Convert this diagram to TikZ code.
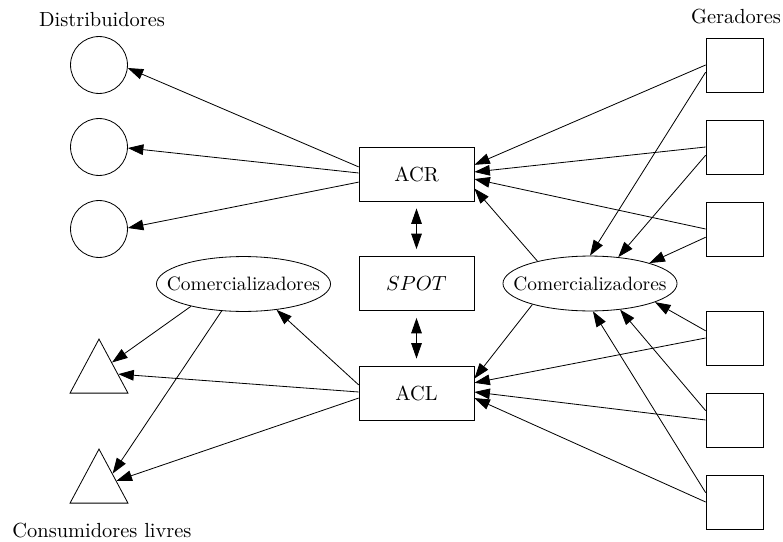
\documentclass[tikz,border=0pt]{standalone}
\usepackage{amsmath}
\usetikzlibrary{arrows.meta,shapes.geometric,calc}

\begin{document}
\begin{tikzpicture}[x=0.49pt,y=-0.49pt,
  every node/.append style={inner sep=0pt},
  arr/.style={-{Triangle[length=7.6pt,width=5.2pt]}},
  dbl/.style={{Triangle[length=7.6pt,width=5.2pt]}-{Triangle[length=7.6pt,width=5.2pt]},shorten <=3.4pt,shorten >=3.4pt},
  mercado/.style={draw,rectangle,minimum width=56.3pt,minimum height=26.5pt},
  gerbox/.style={draw,rectangle,minimum width=27.9pt,minimum height=26.5pt},
  distcirc/.style={draw,circle,minimum size=27.9pt},
  comerc/.style={draw,ellipse,inner xsep=-8pt,inner ysep=0pt,minimum width=85.3pt,minimum height=26.9pt,font=\fontsize{9.5pt}{11pt}\selectfont},
  consum/.style={draw,isosceles triangle,isosceles triangle stretches,shape border rotate=90,minimum width=28.4pt,minimum height=26.5pt}]
\useasboundingbox (0,0) rectangle (783,542);
% rotulos
\node[anchor=base] (ldist) at (102,27) {Distribuidores};
\node[anchor=base] (lger) at (736,24) {Geradores};
\node[anchor=base] (lcons) at (102,537) {Consumidores livres};
% distribuidores
\node[distcirc] (dist1) at (99,65) {};
\node[distcirc] (dist2) at (99,147) {};
\node[distcirc] (dist3) at (99,229) {};
% consumidores livres
\node[consum,anchor=apex] (tri1) at (99,338) {};
\node[consum,anchor=apex] (tri2) at (99,448) {};
% ambientes de contratacao
\node[mercado] (acr) at (416.5,174) {ACR};
\node[mercado] (spot) at (416.5,283.5) {$SPOT$};
\node[mercado] (acl) at (416.5,393) {ACL};
% comercializadores
\node[comerc] (comL) at (243.5,284) {Comercializadores};
\node[comerc] (comR) at (590,283.5) {Comercializadores};
% geradores
\node[gerbox] (ger1) at (734.5,65) {};
\node[gerbox] (ger2) at (734.5,147) {};
\node[gerbox] (ger3) at (734.5,229) {};
\node[gerbox] (ger4) at (734.5,338) {};
\node[gerbox] (ger5) at (734.5,420) {};
\node[gerbox] (ger6) at (734.5,502) {};
% ACR -> distribuidores
\draw[arr] (acr.173) -- (dist1.-6);
\draw[arr] (acr.179) -- (dist2.-2);
\draw[arr] (acr.-172) -- (dist3.2);
% geradores -> ACR
\draw[arr] (ger1.180) -- (acr.9);
\draw[arr] (ger2.180) -- (acr.2);
\draw[arr] (ger3.180) -- (acr.-5);
% geradores -> comercializadores
\draw[arr] (ger1.-166) -- (comR.90);
\draw[arr] (ger2.-164) -- (comR.43);
\draw[arr] (ger3.-164) -- (comR.19.5);
\draw[arr] (ger4.166) -- (comR.-16);
\draw[arr] (ger5.162) -- (comR.-41);
\draw[arr] (ger6.162) -- (comR.-84);
% comercializadores -> ACR / ACL
\draw[arr] (comR.157) -- (acr.-14.6);
\draw[arr] (comR.-160) -- (acl.14.5);
% geradores -> ACL
\draw[arr] (ger4.180) -- (acl.10);
\draw[arr] (ger5.180) -- (acl.1);
\draw[arr] (ger6.180) -- (acl.-5);
% ACL -> comercializadores e consumidores
\draw[arr] (acl.172) -- (comL.-38.6);
\draw[arr] (acl.179) -- ($(tri1.apex)!0.65!(tri1.right corner)$);
\draw[arr] (acl.-175) -- ($(tri2.apex)!0.59!(tri2.right corner)$);
\draw[arr] (comL.-157) -- ($(tri1.apex)!0.44!(tri1.right corner)$);
\draw[arr] (comL.-129) -- ($(tri2.apex)!0.46!(tri2.right corner)$);
% SPOT
\draw[dbl] (acr) -- (spot);
\draw[dbl] (spot) -- (acl);
\end{tikzpicture}
\end{document}
